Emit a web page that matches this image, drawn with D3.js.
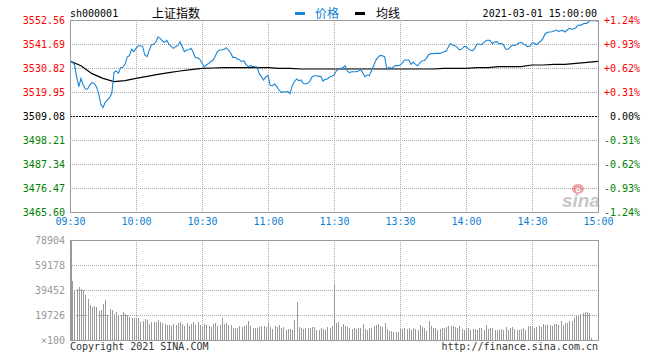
<!DOCTYPE html>
<html>
<head>
<meta charset="utf-8">
<script src="https://cdn.jsdelivr.net/npm/d3@7"></script>
<style>
  html, body { margin: 0; padding: 0; background: #fff; }
  svg { display: block; }
  text { font-family: "DejaVu Sans Mono", "Liberation Mono", monospace; font-size: 10px; }
</style>
</head>
<body>
<div id="chart"></div>
<script>
// ---------------- DATA ----------------
const symbol = "sh000001";
const indexName = "上证指数";
const dateTimeLabel = "2021-03-01 15:00:00";
const legendNames = ["价格", "均线"];
const preClose = 3509.08;

const timeTickMinutes = [0, 30, 60, 90, 120, 150, 180, 210, 240];
const timeTickLabels = ["09:30", "10:00", "10:30", "11:00", "11:30", "13:30", "14:00", "14:30", "15:00"];

const priceTicks = [3552.56, 3541.69, 3530.82, 3519.95, 3509.08, 3498.21, 3487.34, 3476.47, 3465.60];
const pctTickLabels = ["+1.24%", "+0.93%", "+0.62%", "+0.31%", "0.00%", "-0.31%", "-0.62%", "-0.93%", "-1.24%"];

const volumeTicks = [78904, 59178, 39452, 19726];
const volumeUnitLabel = "×100";

// price per minute (minute 0 = 09:30 ... 120 = 11:30/13:00 ... 240 = 15:00)
const price = [
  3533.68, 3533.38, 3532.47, 3526.89, 3522.36, 3526.13, 3523.11, 3521.30, 3521.30, 3523.11,
  3524.17, 3523.87, 3522.36, 3519.34, 3514.36, 3512.85, 3515.26, 3516.32, 3517.37, 3519.34,
  3528.85, 3529.45, 3528.40, 3530.96, 3531.11, 3532.47, 3535.79, 3536.40, 3539.27, 3538.21,
  3539.72, 3540.93, 3540.93, 3540.63, 3536.70, 3535.95, 3538.81, 3541.23, 3541.53, 3542.59,
  3544.85, 3544.25, 3543.04, 3542.44, 3543.34, 3541.53, 3540.48, 3539.72, 3540.48, 3540.93,
  3542.74, 3540.48, 3538.21, 3538.97, 3539.12, 3539.72, 3537.91, 3535.49, 3535.49, 3534.74,
  3532.93,
  3531.41, 3532.17, 3532.93, 3533.68, 3534.29, 3536.10, 3538.21, 3538.97, 3538.97,
  3539.27, 3540.02, 3538.97, 3537.76, 3535.64, 3535.64, 3535.04, 3534.59, 3533.68, 3534.13,
  3532.47, 3531.41, 3531.87, 3531.57, 3531.41, 3531.26, 3528.25, 3526.89, 3525.38, 3526.74,
  3527.49, 3522.96, 3522.81, 3523.57, 3522.36, 3520.85, 3519.79, 3520.09, 3519.94, 3520.24,
  3519.18, 3522.81, 3524.62, 3525.83, 3525.07, 3525.38, 3523.87, 3523.57, 3523.87, 3524.77,
  3526.74, 3527.34, 3527.34, 3527.04, 3527.04, 3524.92, 3525.68, 3525.83, 3526.74, 3527.04,
  3527.64,
  3529.45, 3530.21, 3530.66, 3530.96, 3531.87, 3529.45, 3528.70, 3529.15, 3529.15,
  3529.15, 3529.30, 3530.21, 3528.85, 3526.89, 3527.64, 3527.34, 3529.45, 3531.87, 3534.29,
  3535.64, 3536.55, 3536.40, 3535.95, 3530.36, 3531.11, 3530.66, 3531.26, 3532.02, 3531.87,
  3532.17, 3532.93, 3534.44, 3534.44, 3534.44, 3532.47, 3533.53, 3532.47, 3531.87, 3533.08,
  3534.13, 3534.13, 3535.19, 3536.85, 3537.31, 3537.31, 3537.46, 3537.46, 3537.46, 3537.76,
  3538.21, 3538.52, 3540.33, 3541.84, 3541.08, 3540.93, 3540.17, 3539.12, 3539.27, 3540.48,
  3540.63,
  3539.57, 3538.82, 3538.67, 3539.72, 3541.69, 3541.69, 3541.38, 3542.29, 3543.04,
  3543.50, 3543.19, 3541.84, 3542.59, 3542.74, 3541.84, 3541.99, 3541.38, 3539.42, 3539.27,
  3540.17, 3541.23, 3540.93, 3541.38, 3542.14, 3542.44, 3541.84, 3541.23, 3540.48, 3540.63,
  3542.14, 3542.14, 3541.38, 3542.14, 3543.04, 3544.25, 3546.37, 3546.97, 3547.12, 3547.27,
  3547.57, 3548.03, 3547.42, 3547.72, 3547.87, 3547.12, 3548.03, 3548.78, 3548.33, 3548.63,
  3549.08, 3550.29, 3550.14, 3550.59, 3551.05, 3551.05, 3552.10, 3552.25, 3552.25, 3552.25,
  3551.95
];

// average line, sampled every 5 minutes
const avgMinutes = [0, 5, 10, 15, 20, 25, 30, 35, 40, 45, 50, 55, 60, 65, 70, 75, 80, 85, 90, 95, 100,
  105, 110, 115, 120, 125, 130, 135, 140, 145, 150, 155, 160, 165, 170, 175, 180,
  185, 190, 195, 200, 205, 210, 215, 220, 225, 230, 235, 240];
const avgPrice = [3533.99, 3531.87, 3528.25, 3526.13, 3524.62, 3525.07, 3526.13, 3527.04, 3527.94, 3528.70,
  3529.45, 3530.06, 3530.66, 3530.81, 3530.96, 3530.96, 3530.96, 3530.96, 3530.96, 3530.66, 3530.66,
  3530.36, 3530.36, 3530.36, 3530.36, 3530.36, 3530.36, 3530.36, 3530.36, 3530.36, 3530.36, 3530.36,
  3530.36, 3530.36, 3530.66, 3530.66, 3530.66,
  3530.96, 3530.96, 3531.42, 3531.42, 3531.42, 3532.17, 3532.17, 3532.47, 3532.47, 3532.93, 3533.38, 3533.84];

// volume per minute (×100 shares)
const volume = [
  78904, 46800, 39450, 40000, 41550, 40000, 39450, 35500, 32100, 27600,
  26300, 26830, 26300, 22880, 23670, 28140, 31560, 19730, 24460, 23670,
  20250, 21830, 19730, 19730, 21830, 20780, 19730, 18410, 17620, 17100,
  17620, 17620, 14470, 14990, 16310, 15780, 12630, 14470, 13940, 14470,
  15780, 14470, 13150, 12360, 11840, 11840, 11310, 12360, 11840, 13150,
  14470, 12630, 11310, 13150, 11310, 12360, 13940, 11840, 14470, 11840,
  11310, 12360, 11840, 11310, 10520, 12360, 13150, 11310, 11840, 17100,
  12360, 13680, 11840, 11840, 9730, 9730, 9730, 11310, 10520, 11310,
  11840, 15250, 11050, 9730, 9730, 9730, 10520, 11050, 11050, 10520,
  13150, 10520, 8680, 11050, 10520, 11840, 9210, 10520, 7890, 8680,
  8680, 7890, 15780, 30250, 10520, 9730, 8680, 9730, 9210, 9730,
  10520, 10520, 7890, 7890, 9210, 8680, 7890, 10520, 9730, 11310,
  43950,
  13150, 13940, 10520, 12360, 11050, 10520, 9730, 8680, 9210,
  8680, 9730, 9210, 12360, 8680, 7890, 9730, 9730, 11310, 11840,
  12360, 11310, 10520, 13150, 8680, 7100, 7100, 6580, 6050, 6050,
  8680, 8680, 9210, 8680, 9730, 7890, 9730, 8680, 7890, 11840,
  10520, 9210, 7100, 14990, 11310, 9210, 9730, 7890, 8680, 9730,
  9210, 10520, 11310, 10780, 11050, 10520, 9730, 11310, 8680, 7890,
  9730, 9210, 7890, 8680, 8680, 7890, 9210, 9730, 7890, 11840,
  8680, 9210, 9730, 7890, 7890, 7890, 8680, 7890, 10520, 7890,
  9730, 10520, 8680, 7890, 7890, 8680, 9210, 7890, 11310, 11310,
  10520, 9210, 10520, 11310, 10520, 12360, 11840, 11840, 11840, 11310,
  12360, 12360, 11840, 14990, 11840, 13150, 13150, 14990, 14990, 17100,
  18670, 19730, 20250, 21040, 21830, 22360, 21040, 1800, 0, 0,
  0
];

// ---------------- CHART ----------------
const W = 660, H = 360;
const L = 70, R = 598;
const pTop = 20, pBot = 212;
const vTop = 240, vBot = 340;

const colRed = "#ff0000", colGreen = "#008000", colBlue = "#0b7fd4", colLine = "#1a84d2";
const colGrid = "#aaaaaa", colBorder = "#999999", colVol = "#9a9a9a";

const svg = d3.select("#chart").append("svg").attr("width", W).attr("height", H);

const x = d3.scaleLinear().domain([0, 240]).range([L, R]);
const yP = d3.scaleLinear().domain([priceTicks[priceTicks.length - 1], priceTicks[0]]).range([pBot, pTop]);
const yV = d3.scaleLinear().domain([0, volumeTicks[0]]).range([vBot, vTop]);

const px = v => Math.round(v) + 0.5;

// ----- price panel grid -----
const gP = svg.append("g");
gP.selectAll("line.hg").data(priceTicks.slice(1, -1)).join("line")
  .attr("x1", L).attr("x2", R)
  .attr("y1", d => px(yP(d))).attr("y2", d => px(yP(d)))
  .attr("stroke", d => d === preClose ? "#000" : colGrid)
  .attr("stroke-dasharray", d => d === preClose ? "2,1" : "1,1")
  .attr("shape-rendering", "crispEdges");
gP.selectAll("line.vg").data(timeTickMinutes.slice(1, -1)).join("line")
  .attr("y1", pTop).attr("y2", pBot)
  .attr("x1", d => px(x(d))).attr("x2", d => px(x(d)))
  .attr("stroke", colGrid).attr("stroke-dasharray", "1,1")
  .attr("shape-rendering", "crispEdges");

// watermark
const wm = svg.append("g").attr("opacity", 0.5);
wm.append("text").attr("x", 562).attr("y", 207)
  .style("font-family", "Arial, 'Liberation Sans', sans-serif").style("font-size", "19px")
  .style("font-style", "italic").style("font-weight", "bold").attr("fill", "#909090").text("sina");
wm.append("ellipse").attr("cx", 578).attr("cy", 189).attr("rx", 6).attr("ry", 5).attr("fill", "#e04848");
wm.append("circle").attr("cx", 578).attr("cy", 190).attr("r", 2.2).attr("fill", "#fff");
wm.append("circle").attr("cx", 578).attr("cy", 190).attr("r", 1).attr("fill", "#555");

// avg line
svg.append("path")
  .datum(avgMinutes.map((m, i) => [m, avgPrice[i]]))
  .attr("fill", "none").attr("stroke", "#000").attr("stroke-width", 1.2)
  .attr("d", d3.line().x(d => x(d[0])).y(d => yP(d[1])));

// price line
svg.append("path")
  .datum(price)
  .attr("fill", "none").attr("stroke", colLine).attr("stroke-width", 1.1)
  .attr("d", d3.line().x((d, i) => x(i)).y(d => yP(d)));

// border
svg.append("rect").attr("x", L + 0.5).attr("y", pTop + 0.5).attr("width", R - L).attr("height", pBot - pTop)
  .attr("fill", "none").attr("stroke", colBorder).attr("shape-rendering", "crispEdges");

// price axis labels
const colorFor = (i) => i < 4 ? colRed : (i === 4 ? "#000" : colGreen);
const axL = svg.append("g").attr("transform", `translate(${L - 5},0)`)
  .call(d3.axisLeft(yP).tickValues(priceTicks).tickFormat(d3.format(".2f")).tickSize(0).tickPadding(0));
axL.select(".domain").remove();
axL.selectAll("text").attr("fill", (d, i) => colorFor(i)).style("font-family", "'DejaVu Sans Mono', monospace").style("font-size", "10px");

const axR = svg.append("g").attr("transform", `translate(${R + 42},0)`)
  .call(d3.axisLeft(yP).tickValues(priceTicks).tickFormat((d, i) => pctTickLabels[i]).tickSize(0).tickPadding(0));
axR.select(".domain").remove();
axR.selectAll("text").attr("fill", (d, i) => colorFor(i)).style("font-family", "'DejaVu Sans Mono', monospace").style("font-size", "10px");

// time axis
const axB = svg.append("g").attr("transform", `translate(0,${pBot + 6})`)
  .call(d3.axisBottom(x).tickValues(timeTickMinutes).tickFormat((d, i) => timeTickLabels[i]).tickSize(0).tickPadding(0));
axB.select(".domain").remove();
axB.selectAll("text").attr("fill", colBlue).style("font-family", "'DejaVu Sans Mono', monospace").style("font-size", "10px");

// ----- volume panel -----
const gV = svg.append("g");
gV.selectAll("line.hg").data(volumeTicks.slice(1)).join("line")
  .attr("x1", L).attr("x2", R)
  .attr("y1", d => px(yV(d))).attr("y2", d => px(yV(d)))
  .attr("stroke", colGrid).attr("stroke-dasharray", "1,1").attr("shape-rendering", "crispEdges");
gV.selectAll("line.vg").data(timeTickMinutes.slice(1, -1)).join("line")
  .attr("y1", vTop).attr("y2", vBot)
  .attr("x1", d => px(x(d))).attr("x2", d => px(x(d)))
  .attr("stroke", colGrid).attr("stroke-dasharray", "1,1").attr("shape-rendering", "crispEdges");

gV.selectAll("rect.bar").data(volume).join("rect")
  .attr("x", (d, i) => Math.round(x(i)) + (i === 0 ? 1 : 0))
  .attr("width", 1)
  .attr("y", d => Math.round(yV(d)))
  .attr("height", d => vBot - Math.round(yV(d)))
  .attr("fill", colVol).attr("shape-rendering", "crispEdges");

svg.append("rect").attr("x", L + 0.5).attr("y", vTop + 0.5).attr("width", R - L).attr("height", vBot - vTop)
  .attr("fill", "none").attr("stroke", colBorder).attr("shape-rendering", "crispEdges");

const axV = svg.append("g").attr("transform", `translate(${L - 5},0)`)
  .call(d3.axisLeft(yV).tickValues(volumeTicks.concat([0])).tickFormat(d => d === 0 ? volumeUnitLabel : String(d)).tickSize(0).tickPadding(0));
axV.select(".domain").remove();
axV.selectAll("text").attr("fill", "#999").style("font-family", "'DejaVu Sans Mono', monospace").style("font-size", "10px");

// ----- header -----
svg.append("text").attr("x", L).attr("y", 17).attr("fill", "#000").text(symbol);
svg.append("text").attr("x", 152).attr("y", 18).attr("fill", "#000")
  .style("font-family", "'Noto Sans CJK SC', sans-serif").style("font-size", "12px").text(indexName);
svg.append("line").attr("x1", 295).attr("x2", 305).attr("y1", 13.5).attr("y2", 13.5)
  .attr("stroke", colLine).attr("stroke-width", 3);
svg.append("text").attr("x", 315).attr("y", 18).attr("fill", colBlue)
  .style("font-family", "'Noto Sans CJK SC', sans-serif").style("font-size", "12px").text(legendNames[0]);
svg.append("line").attr("x1", 355).attr("x2", 365).attr("y1", 13.5).attr("y2", 13.5)
  .attr("stroke", "#000").attr("stroke-width", 3);
svg.append("text").attr("x", 376).attr("y", 18).attr("fill", "#000")
  .style("font-family", "'Noto Sans CJK SC', sans-serif").style("font-size", "12px").text(legendNames[1]);
svg.append("text").attr("x", R - 1).attr("y", 17).attr("text-anchor", "end").attr("fill", "#000").text(dateTimeLabel);

// ----- footer -----
svg.append("text").attr("x", L).attr("y", 350).attr("fill", "#333").text("Copyright 2021 SINA.COM");
svg.append("text").attr("x", R).attr("y", 350).attr("text-anchor", "end").attr("fill", "#333").text("http://finance.sina.com.cn");
</script>
</body>
</html>
